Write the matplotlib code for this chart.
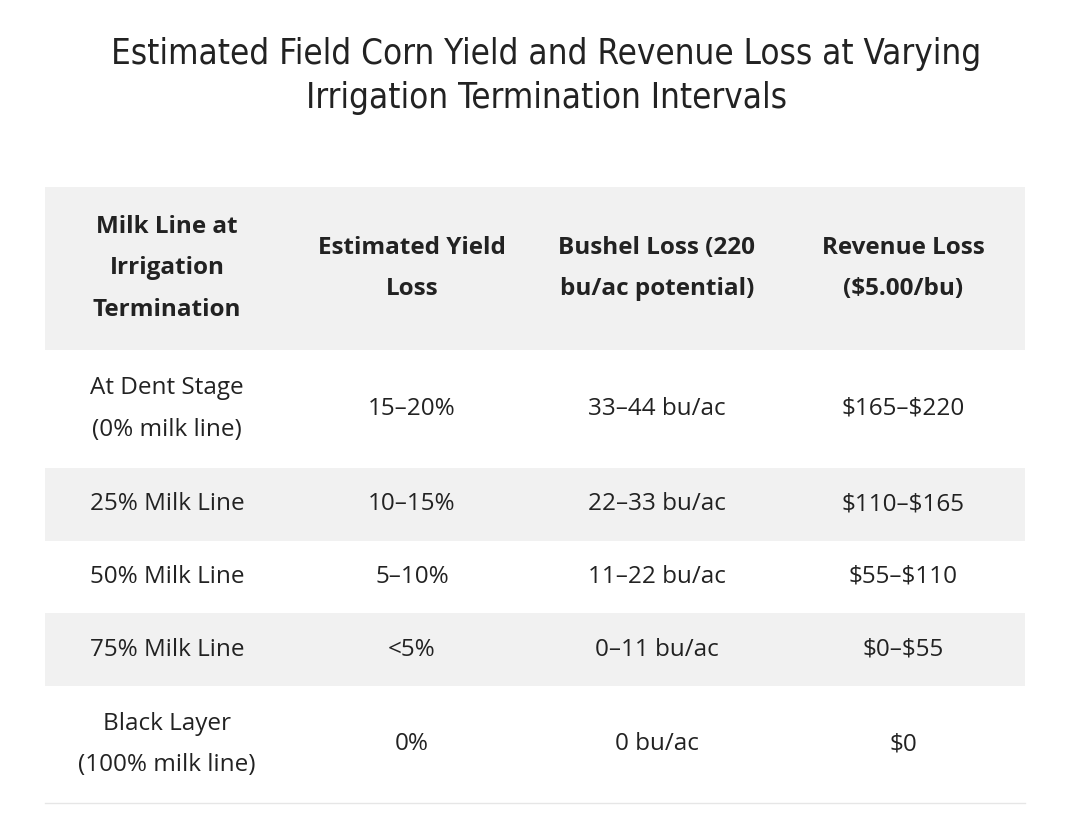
import matplotlib
matplotlib.use("Agg")
import matplotlib.pyplot as plt
from matplotlib.patches import Rectangle

title = "Estimated Field Corn Yield and Revenue Loss at Varying\nIrrigation Termination Intervals"
headers = ["Milk Line at\nIrrigation\nTermination", "Estimated Yield\nLoss",
           "Bushel Loss (220\nbu/ac potential)", "Revenue Loss\n($5.00/bu)"]
milk_line = ["At Dent Stage\n(0% milk line)", "25% Milk Line", "50% Milk Line",
             "75% Milk Line", "Black Layer\n(100% milk line)"]
yield_loss = ["15\u201320%", "10\u201315%", "5\u201310%", "<5%", "0%"]
bushel_loss = ["33\u201344 bu/ac", "22\u201333 bu/ac", "11\u201322 bu/ac", "0\u201311 bu/ac", "0 bu/ac"]
revenue_loss = ["$165\u2013$220", "$110\u2013$165", "$55\u2013$110", "$0\u2013$55", "$0"]

W, H = 1092, 814
fig = plt.figure(figsize=(W / 100, H / 100), dpi=100)
ax = fig.add_axes([0, 0, 1, 1])
ax.set_xlim(0, W)
ax.set_ylim(H, 0)
ax.axis("off")

x0, x1 = 45, 1025
col_x = [167, 412, 657, 903]
row_edges = [187, 350, 468, 541, 613, 686, 803]
gray = "#f1f1f1"
body_font = ["Open Sans", "DejaVu Sans"]
txt_color = "#222222"

ax.text(W / 2, 76, title, ha="center", va="center", fontsize=25,
        family="DejaVu Sans", stretch="condensed", color="#222222",
        linespacing=1.4, parse_math=False)

fills = [gray, "white", gray, "white", gray, "white"]
for i, c in enumerate(fills):
    ax.add_patch(Rectangle((x0, row_edges[i]), x1 - x0, row_edges[i + 1] - row_edges[i],
                           color=c, lw=0))
ax.plot([x0, x1], [row_edges[-1], row_edges[-1]], color="#e6e6e6", lw=1)

hy = (row_edges[0] + row_edges[1]) / 2
for x, h in zip(col_x, headers):
    ax.text(x, hy, h, ha="center", va="center", fontsize=17.5, weight="bold",
            family=body_font, color=txt_color, linespacing=1.95, parse_math=False)

rows = list(zip(milk_line, yield_loss, bushel_loss, revenue_loss))
for i, r in enumerate(rows):
    y = (row_edges[i + 1] + row_edges[i + 2]) / 2
    for x, t in zip(col_x, r):
        ax.text(x, y, t, ha="center", va="center", fontsize=17.5,
                family=body_font, color=txt_color, linespacing=1.95, parse_math=False)

fig.savefig("out.png", dpi=100, facecolor="white")
